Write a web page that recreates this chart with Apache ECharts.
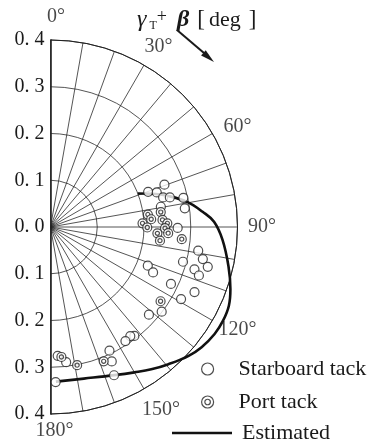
<!DOCTYPE html>
<html><head><meta charset="utf-8">
<script src="https://cdn.jsdelivr.net/npm/echarts@6/dist/echarts.min.js"></script>
<style>html,body{margin:0;padding:0;background:#fff}#c{width:371px;height:444px}</style>
</head><body><div id="c"></div>
<script>
// angle in degrees (gamma_T + beta), radius value
const radiusTicks = [0, 0.1, 0.2, 0.3, 0.4];
const angleLabelValues = [0, 30, 60, 90, 120, 150, 180];
const starboard = [
  [70.2,0.222],[72.0,0.239],[69.6,0.260],[75.3,0.249],[76.1,0.263],[77.6,0.291],[82.1,0.290],
  [79.6,0.240],[90.4,0.272],[99.1,0.320],[101.9,0.333],[104.2,0.347],[106.4,0.321],[108.1,0.334],
  [104.7,0.293],[111.7,0.224],[113.9,0.240],[115.3,0.285],[114.3,0.338],[118.9,0.319],[127.3,0.299],
  [131.7,0.282],[142.4,0.294],[143.8,0.289],[146.7,0.292],[154.5,0.293],[155.5,0.316],[156.8,0.345],
  [173.4,0.291],[176.8,0.276],[178.1,0.332]
];
const port = [
  [82.7,0.210],[85.6,0.216],[87.7,0.197],[90.3,0.207],[82.3,0.238],[86.4,0.240],[88.2,0.250],
  [90.6,0.245],[93.0,0.252],[93.4,0.229],[97.1,0.236],[95.3,0.282],[124.0,0.284],[158.4,0.309],
  [169.1,0.301],[175.2,0.279]
];
const estimated = [
  [69,0.200],[72,0.230],[75.3,0.261],[79.7,0.298],[84.3,0.327],[88.2,0.350],[94.3,0.369],
  [102.5,0.390],[109,0.407],[113.8,0.417],[118.5,0.420],[123.1,0.419],[128.5,0.413],[133,0.404],
  [139.3,0.387],[144.7,0.373],[150,0.359],[156.7,0.345],[167.6,0.332],[178,0.331]
];
const seriesNames = ['Starboard tack', 'Port tack', 'Estimated'];

const FONT = 'Liberation Serif';
const INK = '#1a1a1a';
const CX = 50.5, CY = 227, R = 187;
const RMAX = radiusTicks[radiusTicks.length - 1];
const toPolar = arr => arr.map(([a, r]) => [r, a]);
const doubleCircle = 'path://M0,-10A10,10,0,1,1,0,10A10,10,0,1,1,0,-10ZM0,-4.6A4.6,4.6,0,1,1,0,4.6A4.6,4.6,0,1,1,0,-4.6Z';
// label placement (pixel nudges from the outer-arc end of each spoke)
const angleLabelNudge = [[5.5,-23],[14.5,-18.5],[25,-7],[24.5,0],[25,9],[17,20.5],[4,16.5]];

const hiddenAngle = {type: 'value', min: 0, max: 180, startAngle: 90, endAngle: -90, clockwise: true,
  axisLine: {show: false}, axisTick: {show: false}, axisLabel: {show: false}, splitLine: {show: false}};

const chart = echarts.init(document.getElementById('c'), null, {renderer: 'canvas'});
chart.setOption({
  animation: false,
  backgroundColor: '#fff',
  title: {
    text: '{g|γ}{s|T}{p|+}{b|β}{n|[}{d|deg}{n|]}',
    left: 132, top: 3,
    textStyle: {
      fontWeight: 'normal',
      rich: {
        g: {fontFamily: FONT, fontStyle: 'italic', fontWeight: 'normal', fontSize: 24, color: INK},
        s: {fontFamily: FONT, fontWeight: 'normal', fontSize: 12, color: INK, verticalAlign: 'bottom', padding: [0, 0, 0, 3]},
        p: {fontFamily: FONT, fontWeight: 'normal', fontSize: 18, color: INK, verticalAlign: 'top'},
        b: {fontFamily: FONT, fontStyle: 'italic', fontWeight: 'bold', fontSize: 24, color: INK, padding: [0, 0, 0, 10]},
        n: {fontFamily: FONT, fontWeight: 'normal', fontSize: 23, color: INK, padding: [0, 4, 0, 8]},
        d: {fontFamily: FONT, fontWeight: 'normal', fontSize: 22, color: INK}
      }
    }
  },
  graphic: [
    {type: 'line', shape: {x1: 177, y1: 30, x2: 204, y2: 53}, style: {stroke: INK, lineWidth: 2}},
    {type: 'polygon', shape: {points: [[214, 62], [201.1, 55.5], [205.7, 50.2]]}, style: {fill: INK}}
  ],
  polar: [
    {center: [CX, CY], radius: R},
    {center: [CX, CY], radius: R * 0.5 / RMAX}
  ],
  angleAxis: [
    {
      polarIndex: 0, type: 'value', min: 0, max: 180, interval: 10,
      startAngle: 90, endAngle: -90, clockwise: true,
      axisLine: {show: true, lineStyle: {color: '#222', width: 1}},
      axisTick: {show: false},
      axisLabel: {show: false},
      splitLine: {show: true, lineStyle: {color: '#2a2a2a', width: 0.8}}
    },
    Object.assign({polarIndex: 1}, hiddenAngle)
  ],
  radiusAxis: [
    {
      polarIndex: 0, type: 'value', min: 0, max: RMAX, interval: 0.1,
      axisLine: {show: false}, axisTick: {show: false}, axisLabel: {show: false},
      splitLine: {show: true, lineStyle: {color: '#2a2a2a', width: 0.8}}
    },
    {polarIndex: 1, type: 'value', min: 0, max: 0.5, show: false,
      axisLine: {show: false}, axisTick: {show: false}, axisLabel: {show: false}, splitLine: {show: false}}
  ],
  grid: {left: CX, top: CY - R, width: 1, height: 2 * R},
  xAxis: {type: 'value', min: 0, max: 1, show: false},
  yAxis: {
    type: 'value', min: -0.4, max: 0.4, interval: 0.1,
    axisLine: {show: true, lineStyle: {color: '#222', width: 1.6}},
    axisTick: {show: false}, splitLine: {show: false},
    axisLabel: {
      margin: 6, fontFamily: FONT, fontSize: 20, color: INK, padding: [0, 0, 7, 0],
      formatter: v => Math.abs(v).toFixed(1).replace('.', '. ')
    }
  },
  legend: [
    {data: [seriesNames[0]], left: 201, top: 358, padding: 0, itemWidth: 12, itemHeight: 12, selectedMode: false,
     itemStyle: {borderWidth: 1.2}, textStyle: {fontFamily: FONT, fontSize: 22, color: INK, padding: [0, 0, 0, 20]}},
    {data: [seriesNames[1]], left: 201, top: 391, padding: 0, itemWidth: 12, itemHeight: 12, selectedMode: false,
     itemStyle: {borderWidth: 1.2}, textStyle: {fontFamily: FONT, fontSize: 22, color: INK, padding: [0, 0, 0, 20]}},
    {data: [{name: seriesNames[2], icon: 'rect'}], left: 172, top: 422, padding: 0, itemWidth: 60, itemHeight: 2.6, selectedMode: false,
     textStyle: {fontFamily: FONT, fontSize: 22, color: INK, padding: [0, 0, 0, 5]}}
  ],
  series: [
    {name: seriesNames[2], type: 'line', coordinateSystem: 'polar', polarIndex: 1, data: toPolar(estimated),
     smooth: 0.4, symbol: 'none', showSymbol: false, clip: false, z: 2,
     lineStyle: {color: '#111', width: 2.6}, itemStyle: {color: '#111'}},
    {name: seriesNames[0], type: 'scatter', coordinateSystem: 'polar', polarIndex: 0, data: toPolar(starboard),
     symbol: 'circle', symbolSize: 9, z: 3,
     itemStyle: {color: '#fff', borderColor: '#222', borderWidth: 1.2}},
    {name: seriesNames[1], type: 'scatter', coordinateSystem: 'polar', polarIndex: 0, data: toPolar(port),
     symbol: doubleCircle, symbolSize: 9, symbolKeepAspect: true, z: 4,
     itemStyle: {color: '#fff', borderColor: '#222', borderWidth: 1.2}},
    {name: 'angle labels', type: 'scatter', coordinateSystem: 'polar', polarIndex: 0, silent: true,
     symbolSize: 1, itemStyle: {color: 'transparent'}, z: 5,
     data: angleLabelValues.map((a, i) => ({value: [RMAX, a], label: {offset: angleLabelNudge[i]}})),
     label: {show: true, position: 'inside', align: 'center', verticalAlign: 'middle',
       fontFamily: FONT, fontSize: 20, color: INK, formatter: p => p.value[1] + '°'}}
  ]
});
</script></body></html>
